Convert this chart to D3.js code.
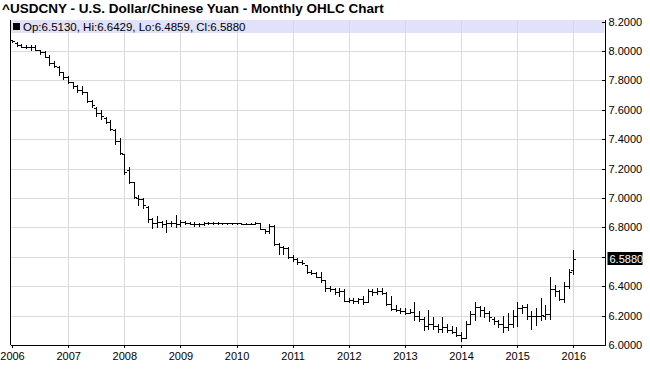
<!DOCTYPE html>
<html>
<head>
<meta charset="utf-8">
<script src="https://cdn.jsdelivr.net/npm/d3@7"></script>
<style>
  body { margin: 0; background: #fff; }
  svg text { font-family: "Liberation Sans", Arial, sans-serif; }
</style>
</head>
<body>
<div id="chart"></div>
<script>
const title = "^USDCNY - U.S. Dollar/Chinese Yuan - Monthly OHLC Chart";
const years = ["2006", "2007", "2008", "2009", "2010", "2011", "2012", "2013", "2014", "2015", "2016"];
const yTicks = [6.0, 6.2, 6.4, 6.6, 6.8, 7.0, 7.2, 7.4, 7.6, 7.8, 8.0, 8.2];

// monthly bars, Jan 2006 .. Jan 2016
const opens = [
  8.072, 8.055, 8.04, 8.03, 8.03, 8.025, 8.005, 7.99, 7.96, 7.92, 7.89, 7.855,
  7.82, 7.79, 7.76, 7.735, 7.72, 7.66, 7.615, 7.575, 7.545, 7.52, 7.46, 7.39,
  7.30, 7.19, 7.11, 7.0, 6.99, 6.94, 6.86, 6.83, 6.84, 6.82, 6.83, 6.83,
  6.825, 6.835, 6.83, 6.825, 6.82, 6.825, 6.83, 6.832, 6.83, 6.828, 6.828, 6.827,
  6.828, 6.827, 6.826, 6.826, 6.826, 6.827, 6.79, 6.775, 6.81, 6.69, 6.665, 6.66,
  6.60, 6.585, 6.565, 6.545, 6.50, 6.49, 6.465, 6.445, 6.39, 6.38, 6.36, 6.365,
  6.30, 6.305, 6.30, 6.31, 6.29, 6.37, 6.36, 6.37, 6.355, 6.28, 6.245, 6.235,
  6.23, 6.22, 6.225, 6.20, 6.18, 6.13, 6.14, 6.13, 6.11, 6.12, 6.10, 6.09,
  6.07, 6.05, 6.14, 6.21, 6.26, 6.24, 6.22, 6.18, 6.16, 6.14, 6.12, 6.14,
  6.20, 6.25, 6.26, 6.20, 6.20, 6.20, 6.20, 6.21, 6.38, 6.37, 6.31, 6.40,
  6.5130
];
const highs = [
  8.075, 8.058, 8.05, 8.04, 8.04, 8.04, 8.007, 8.0, 7.97, 7.93, 7.9, 7.86,
  7.83, 7.79, 7.77, 7.76, 7.72, 7.67, 7.62, 7.60, 7.55, 7.53, 7.47, 7.41,
  7.30, 7.21, 7.11, 7.02, 7.0, 6.945, 6.865, 6.88, 6.845, 6.85, 6.845, 6.885,
  6.85, 6.845, 6.84, 6.835, 6.83, 6.834, 6.834, 6.834, 6.834, 6.832, 6.832, 6.830,
  6.831, 6.833, 6.830, 6.830, 6.834, 6.83, 6.79, 6.82, 6.815, 6.695, 6.675, 6.67,
  6.61, 6.59, 6.58, 6.545, 6.51, 6.50, 6.50, 6.445, 6.40, 6.39, 6.39, 6.38,
  6.32, 6.32, 6.32, 6.33, 6.38, 6.38, 6.39, 6.39, 6.36, 6.33, 6.27, 6.25,
  6.25, 6.245, 6.29, 6.23, 6.19, 6.24, 6.19, 6.14, 6.19, 6.14, 6.13, 6.12,
  6.09, 6.16, 6.23, 6.29, 6.265, 6.26, 6.23, 6.19, 6.17, 6.20, 6.215, 6.24,
  6.29, 6.275, 6.28, 6.23, 6.25, 6.32, 6.27, 6.46, 6.41, 6.375, 6.43, 6.52,
  6.6429
];
const lows = [
  8.06, 8.034, 8.028, 8.02, 8.01, 8.01, 7.98, 7.96, 7.905, 7.89, 7.84, 7.81,
  7.78, 7.75, 7.72, 7.71, 7.65, 7.62, 7.56, 7.54, 7.51, 7.46, 7.37, 7.30,
  7.16, 7.10, 7.00, 6.95, 6.93, 6.84, 6.795, 6.80, 6.80, 6.77, 6.81, 6.805,
  6.81, 6.82, 6.82, 6.81, 6.81, 6.818, 6.826, 6.826, 6.826, 6.825, 6.825, 6.824,
  6.826, 6.825, 6.824, 6.824, 6.823, 6.79, 6.765, 6.765, 6.68, 6.62, 6.62, 6.59,
  6.57, 6.55, 6.55, 6.49, 6.48, 6.46, 6.43, 6.37, 6.37, 6.35, 6.33, 6.30,
  6.29, 6.285, 6.285, 6.28, 6.29, 6.34, 6.35, 6.35, 6.27, 6.24, 6.23, 6.22,
  6.21, 6.215, 6.17, 6.16, 6.10, 6.11, 6.11, 6.09, 6.09, 6.09, 6.08, 6.06,
  6.03, 6.05, 6.14, 6.17, 6.20, 6.19, 6.16, 6.14, 6.125, 6.09, 6.10, 6.125,
  6.13, 6.215, 6.18, 6.11, 6.135, 6.17, 6.18, 6.18, 6.33, 6.305, 6.29, 6.39,
  6.4859
];
const closes = [
  8.065, 8.04, 8.03, 8.03, 8.025, 8.01, 7.99, 7.96, 7.92, 7.90, 7.86, 7.82,
  7.79, 7.76, 7.735, 7.72, 7.66, 7.635, 7.575, 7.56, 7.52, 7.47, 7.385, 7.305,
  7.18, 7.11, 7.01, 6.99, 6.95, 6.86, 6.83, 6.84, 6.82, 6.83, 6.83, 6.825,
  6.835, 6.83, 6.825, 6.82, 6.825, 6.83, 6.832, 6.83, 6.828, 6.828, 6.827, 6.828,
  6.827, 6.826, 6.826, 6.826, 6.827, 6.79, 6.775, 6.81, 6.69, 6.67, 6.66, 6.60,
  6.585, 6.565, 6.555, 6.50, 6.49, 6.465, 6.445, 6.39, 6.38, 6.36, 6.365, 6.30,
  6.305, 6.30, 6.31, 6.29, 6.37, 6.36, 6.37, 6.355, 6.28, 6.245, 6.235, 6.23,
  6.22, 6.225, 6.20, 6.18, 6.13, 6.14, 6.13, 6.11, 6.12, 6.10, 6.09, 6.07,
  6.05, 6.14, 6.21, 6.26, 6.24, 6.22, 6.19, 6.16, 6.14, 6.12, 6.14, 6.20,
  6.25, 6.26, 6.20, 6.20, 6.20, 6.205, 6.21, 6.38, 6.37, 6.31, 6.40, 6.50,
  6.5880
];

(function () {
  const width = 650;
  const height = 386;
  const plot = {left: 10.5, right: 605.5, top: 21.6, bottom: 345};
  const fmt = d3.format(".4f");

  const bars = opens.map((o, i) => ({i: i, open: o, high: highs[i], low: lows[i], close: closes[i]}));
  const last = bars[bars.length - 1];

  const svg = d3.select("#chart").append("svg")
    .attr("width", width)
    .attr("height", height)
    .style("display", "block");

  // month index scale: 0 = Jan 2006
  const x = d3.scaleLinear()
    .domain([-0.32, 126.88])
    .range([plot.left, plot.right]);

  const y = d3.scaleLinear()
    .domain([6.0, 8.2])
    .range([plot.bottom, plot.top]);

  const px = (v) => Math.round(v) + 0.5;
  const yearTicks = years.map((d, i) => i * 12);

  svg.append("text")
    .attr("x", 2)
    .attr("y", 13)
    .style("font-size", "13.5px")
    .style("font-weight", "bold")
    .text(title);

  // info band
  svg.append("rect")
    .attr("x", plot.left)
    .attr("y", 20)
    .attr("width", plot.right - plot.left - 1)
    .attr("height", 13)
    .attr("fill", "#e1e1fa");

  // grid
  const grid = svg.append("g")
    .attr("stroke", "#dadada")
    .attr("stroke-width", 1);

  grid.selectAll("line.h")
    .data(yTicks.filter((d) => d > 6.0 && d < 8.2))
    .enter().append("line")
      .attr("x1", plot.left)
      .attr("x2", plot.right)
      .attr("y1", (d) => px(y(d)))
      .attr("y2", (d) => px(y(d)));

  grid.selectAll("line.v")
    .data(yearTicks.slice(1))
    .enter().append("line")
      .attr("x1", (d) => px(x(d)))
      .attr("x2", (d) => px(x(d)))
      .attr("y1", 20)
      .attr("y2", plot.bottom);

  const info = svg.append("g");
  info.append("rect")
    .attr("x", 13)
    .attr("y", 23)
    .attr("width", 7)
    .attr("height", 7)
    .attr("fill", "#000");
  info.append("text")
    .attr("x", 23)
    .attr("y", 31)
    .style("font-size", "11.5px")
    .text("Op:" + fmt(last.open) + ", Hi:" + fmt(last.high) + ", Lo:" + fmt(last.low) + ", Cl:" + fmt(last.close));

  // OHLC bars
  const ohlc = svg.append("g")
    .attr("stroke", "#000")
    .attr("stroke-width", 1)
    .attr("shape-rendering", "crispEdges");

  const bar = ohlc.selectAll("g")
    .data(bars)
    .enter().append("g");

  bar.append("line")
    .attr("x1", (d) => px(x(d.i)))
    .attr("x2", (d) => px(x(d.i)))
    .attr("y1", (d) => Math.round(y(d.high)))
    .attr("y2", (d) => Math.max(Math.round(y(d.low)), Math.round(y(d.high)) + 1) + 1);

  bar.append("line")
    .attr("x1", (d) => px(x(d.i)) - 2.5)
    .attr("x2", (d) => px(x(d.i)))
    .attr("y1", (d) => px(y(d.open)))
    .attr("y2", (d) => px(y(d.open)));

  bar.append("line")
    .attr("x1", (d) => px(x(d.i)))
    .attr("x2", (d) => px(x(d.i)) + 2.5)
    .attr("y1", (d) => px(y(d.close)))
    .attr("y2", (d) => px(y(d.close)));

  // axes; the label next to the last-price marker is left out
  const yAxis = d3.axisRight(y)
    .tickValues(yTicks)
    .tickFormat((d) => Math.abs(y(d) - y(last.close)) < 12 ? "" : fmt(d))
    .tickSizeInner(-4)
    .tickSizeOuter(0)
    .tickPadding(3);

  const xAxis = d3.axisBottom(x)
    .tickValues(yearTicks)
    .tickFormat((d, i) => years[i])
    .tickSizeInner(3)
    .tickSizeOuter(0)
    .tickPadding(4);

  const ya = svg.append("g")
    .attr("transform", "translate(" + plot.right + ",0)")
    .call(yAxis);

  const xa = svg.append("g")
    .attr("transform", "translate(0," + plot.bottom + ")")
    .call(xAxis);

  [ya, xa].forEach((g) => {
    g.selectAll("text").style("font-size", "11px").attr("fill", "#000").style("font-family", '"Liberation Sans", Arial, sans-serif');
    g.selectAll("line, path").attr("stroke", "#000").attr("shape-rendering", "crispEdges");
  });
  ya.select(".domain").attr("d", "M0," + 20 + "V" + plot.bottom);

  svg.append("line")
    .attr("x1", plot.left)
    .attr("x2", plot.left)
    .attr("y1", 20)
    .attr("y2", plot.bottom)
    .attr("stroke", "#000")
    .attr("shape-rendering", "crispEdges");

  // last price marker
  const lp = svg.append("g")
    .attr("transform", "translate(" + (plot.right + 2) + "," + Math.round(y(last.close)) + ")");
  lp.append("rect")
    .attr("x", 0)
    .attr("y", -7)
    .attr("width", 35)
    .attr("height", 13)
    .attr("fill", "#000");
  lp.append("text")
    .attr("x", 2)
    .attr("y", 4)
    .attr("fill", "#fff")
    .style("font-size", "11px")
    .text(fmt(last.close));
})();
</script>
</body>
</html>
